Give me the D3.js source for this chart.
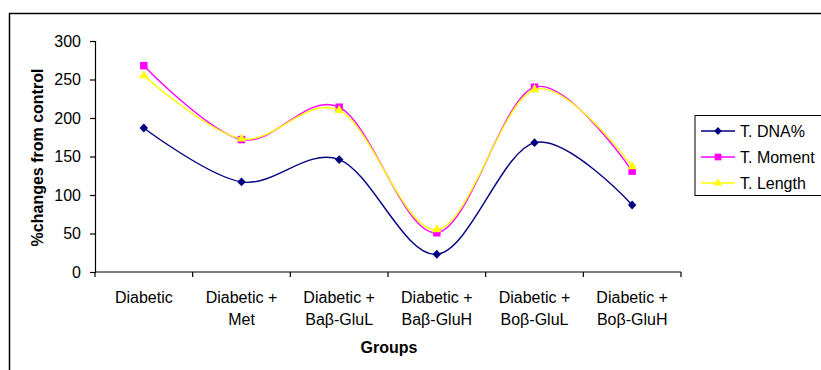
<!DOCTYPE html>
<html>
<head>
<meta charset="utf-8">
<script src="https://cdn.jsdelivr.net/npm/d3@7/dist/d3.min.js"></script>
<style>
  html, body { margin: 0; padding: 0; background: #fff; }
  svg { display: block; font-family: "Liberation Sans", Arial, sans-serif; }
</style>
</head>
<body>
<svg id="chart" width="821" height="370"></svg>
<script>
// Group labels (two lines each) and series values (% change from control)
const groups = [
  ["Diabetic"],
  ["Diabetic +", "Met"],
  ["Diabetic +", "Baβ-GluL"],
  ["Diabetic +", "Baβ-GluH"],
  ["Diabetic +", "Boβ-GluL"],
  ["Diabetic +", "Boβ-GluH"]
];
const dnaValues    = [187, 117, 146, 23, 168, 87];
const momentValues = [268, 172, 214, 51, 240, 131];
const lengthValues = [255, 173, 210, 55, 237, 137];
const yTicks = [0, 50, 100, 150, 200, 250, 300];

const seriesNames  = ["T. DNA%", "T. Moment", "T. Length"];
const seriesColors = ["#000080", "#FF00FF", "#FFFF00"];

// compact, nearly square diamond marker
const squatDiamond = {
  draw(context, size) {
    const r = Math.sqrt(size / 2);
    context.moveTo(0, -r * 1.05);
    context.lineTo(r, 0);
    context.lineTo(0, r * 1.05);
    context.lineTo(-r, 0);
    context.closePath();
  }
};
const seriesShapes = [squatDiamond, d3.symbolSquare, d3.symbolTriangle];
const seriesSizes  = [36, 56, 38];

const series = [dnaValues, momentValues, lengthValues].map((values, i) => ({
  name: seriesNames[i], color: seriesColors[i], shape: seriesShapes[i],
  size: seriesSizes[i], values
}));

const FONT = 16;
const svg = d3.select("#chart");

// outer chart frame (runs off the right and bottom edges)
svg.append("rect")
  .attr("x", 9.5).attr("y", 13.5)
  .attr("width", 830).attr("height", 380)
  .attr("fill", "none").attr("stroke", "#000").attr("stroke-width", 1.5);

const plot = { left: 95, right: 681, top: 41, bottom: 272 };

const x = d3.scaleBand()
  .domain(d3.range(groups.length))
  .range([plot.left, plot.right])
  .paddingInner(0).paddingOuter(0);

const y = d3.scaleLinear().domain([0, 300]).range([plot.bottom, plot.top]);

// y axis
const yAxis = svg.append("g")
  .attr("transform", `translate(${plot.left},0)`)
  .call(d3.axisLeft(y).tickValues(yTicks).tickSize(5).tickPadding(9));
yAxis.select(".domain").attr("stroke", "#000").attr("stroke-width", 1.2);
yAxis.selectAll(".tick line").attr("stroke", "#000").attr("stroke-width", 1.2);
yAxis.selectAll(".tick text")
  .attr("font-size", FONT).attr("fill", "#000")
  .attr("font-family", "Liberation Sans, Arial, sans-serif");

// x axis: ticks on category boundaries
const xAxisG = svg.append("g");
xAxisG.append("line")
  .attr("x1", plot.left).attr("x2", plot.right)
  .attr("y1", plot.bottom).attr("y2", plot.bottom)
  .attr("stroke", "#000").attr("stroke-width", 1.2);
const boundaries = d3.range(groups.length + 1).map(i =>
  i < groups.length ? x(i) : x(groups.length - 1) + x.bandwidth());
xAxisG.selectAll("line.tick").data(boundaries).join("line")
  .attr("class", "tick")
  .attr("x1", d => d).attr("x2", d => d)
  .attr("y1", plot.bottom).attr("y2", plot.bottom + 5)
  .attr("stroke", "#000").attr("stroke-width", 1.2);

// category labels
const labels = xAxisG.selectAll("text.cat").data(groups).join("text")
  .attr("class", "cat")
  .attr("text-anchor", "middle")
  .attr("font-size", FONT)
  .attr("fill", "#000")
  .attr("transform", (d, i) => `translate(${x(i) + x.bandwidth() / 2},303)`);
labels.selectAll("tspan").data(d => d).join("tspan")
  .attr("x", 0)
  .attr("y", (d, i) => i * 22)
  .text(d => d);

// axis titles
svg.append("text")
  .attr("x", 389).attr("y", 353)
  .attr("text-anchor", "middle")
  .attr("font-size", FONT).attr("font-weight", "bold")
  .text("Groups");
svg.append("text")
  .attr("transform", `translate(43,${(plot.top + plot.bottom) / 2 + 1}) rotate(-90)`)
  .attr("text-anchor", "middle")
  .attr("font-size", FONT).attr("font-weight", "bold")
  .text("%changes from control");

// smoothed series lines and markers
const line = d3.line()
  .x((d, i) => x(i) + x.bandwidth() / 2)
  .y(d => y(d))
  .curve(d3.curveCardinal.tension(0));

const sg = svg.append("g").selectAll("g").data(series).join("g");
sg.append("path")
  .attr("d", d => line(d.values))
  .attr("fill", "none")
  .attr("stroke", d => d.color)
  .attr("stroke-width", 1.4);
sg.each(function (s) {
  d3.select(this).selectAll("path.marker").data(s.values).join("path")
    .attr("class", "marker")
    .attr("d", d3.symbol().type(s.shape).size(s.size))
    .attr("transform", (d, i) => `translate(${x(i) + x.bandwidth() / 2},${y(d)})`)
    .attr("fill", s.color);
});

// legend
const legend = svg.append("g");
legend.append("rect")
  .attr("x", 695).attr("y", 115.5)
  .attr("width", 140).attr("height", 80)
  .attr("fill", "#fff").attr("stroke", "#000").attr("stroke-width", 1);
const rows = legend.selectAll("g.row").data(series).join("g")
  .attr("class", "row")
  .attr("transform", (d, i) => `translate(0,${131 + i * 26})`);
rows.append("line")
  .attr("x1", 701).attr("x2", 735)
  .attr("stroke", d => d.color).attr("stroke-width", 1.4);
rows.append("path")
  .attr("d", d => d3.symbol().type(d.shape).size(d.size * 0.8)())
  .attr("transform", "translate(718,0)")
  .attr("fill", d => d.color);
rows.append("text")
  .attr("x", 740).attr("y", 6)
  .attr("font-size", FONT)
  .text(d => d.name);
</script>
</body>
</html>
